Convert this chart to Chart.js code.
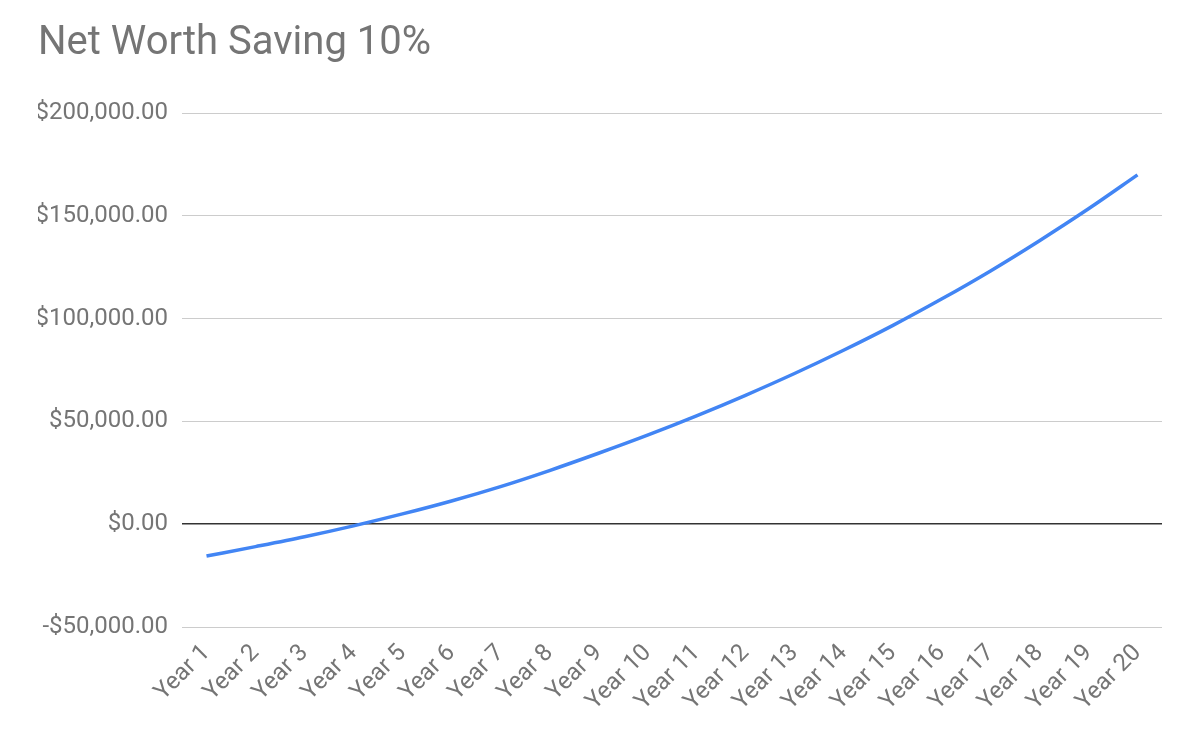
<!DOCTYPE html>
<html>
<head>
<meta charset="utf-8">
<script src="https://cdn.jsdelivr.net/npm/chart.js@4.4.1/dist/chart.umd.min.js"></script>
<style>
  html, body { margin: 0; padding: 0; background: #fff; }
  #wrap { width: 1200px; height: 741px; }
</style>
</head>
<body>
<div id="wrap"><canvas id="netWorthChart" width="1200" height="741"></canvas></div>
<script>
const years = ['Year 1', 'Year 2', 'Year 3', 'Year 4', 'Year 5', 'Year 6', 'Year 7', 'Year 8', 'Year 9', 'Year 10',
    'Year 11', 'Year 12', 'Year 13', 'Year 14', 'Year 15', 'Year 16', 'Year 17', 'Year 18', 'Year 19', 'Year 20'];
const netWorth = [-15500, -10900, -6100, -800, 5000, 11300, 18300, 26100, 34500, 43300,
    52700, 62700, 73300, 84600, 96600, 109500, 123200, 137900, 153400, 169900];
const yTicks = [-50000, 0, 50000, 100000, 150000, 200000];

const textGrey = '#757575';

function money(v) {
    const s = Math.abs(v).toLocaleString('en-US', { minimumFractionDigits: 2, maximumFractionDigits: 2 });
    return (v < 0 ? '-$' : '$') + s;
}

const ctx = document.getElementById('netWorthChart').getContext('2d');
new Chart(ctx, {
    type: 'line',
    data: {
        labels: years,
        datasets: [{
            label: 'Net Worth',
            data: netWorth,
            borderColor: '#4285F4',
            borderWidth: 3.5,
            pointRadius: 0,
            cubicInterpolationMode: 'monotone',
            fill: false
        }]
    },
    options: {
        responsive: false,
        animation: false,
        layout: { padding: { left: 38, right: 38, top: 0, bottom: 0 } },
        plugins: {
            legend: { display: false },
            tooltip: { enabled: false },
            title: {
                display: true,
                text: 'Net Worth Saving 10%',
                align: 'start',
                color: textGrey,
                font: { family: 'Roboto', size: 40, weight: 'normal' },
                padding: { top: 20, bottom: 45 }
            }
        },
        scales: {
            x: {
                offset: true,
                grid: { display: false },
                border: { display: false },
                ticks: {
                    color: textGrey,
                    font: { family: 'Roboto', size: 24 },
                    minRotation: 45,
                    maxRotation: 45,
                    autoSkip: false,
                    padding: 4
                },
                afterFit: scale => { scale.height = 114; }
            },
            y: {
                min: -50000,
                max: 200000,
                afterBuildTicks: scale => { scale.ticks = yTicks.map(v => ({ value: v })); },
                grid: {
                    color: c => (c.tick && c.tick.value === 0 ? '#333333' : '#cccccc'),
                    lineWidth: c => (c.tick && c.tick.value === 0 ? 1.5 : 1),
                    drawTicks: false
                },
                border: { display: false },
                ticks: {
                    color: textGrey,
                    font: { family: 'Roboto', size: 24 },
                    padding: 14,
                    callback: v => money(v)
                },
                afterFit: scale => { scale.width = 144; }
            }
        }
    }
});
</script>
</body>
</html>
